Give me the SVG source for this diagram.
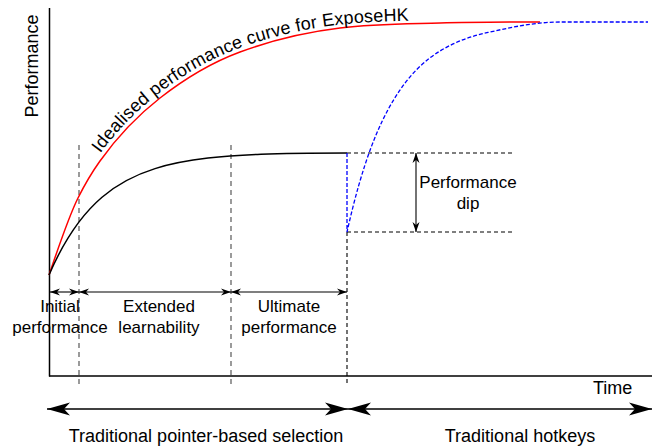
<svg xmlns="http://www.w3.org/2000/svg" width="657" height="447" viewBox="0 0 657 447">
<defs>
<style>
text{font-family:"Liberation Sans",Arial,sans-serif;fill:#000}
.lbl{font-size:17px;text-anchor:middle}
.big{font-size:18px}
.axis{stroke:#000;stroke-width:1.5;fill:none}
.curve{fill:none;stroke-width:1.5}
.gdash{stroke:#666;stroke-width:1.3;stroke-dasharray:5 4;fill:none}
.kdash{stroke:#000;stroke-width:1.1;stroke-dasharray:4 3;fill:none}
.bdash{stroke:#0000ff;stroke-width:1.3;stroke-dasharray:4 2;fill:none}
.arr{stroke:#000;stroke-width:1.1;fill:none;marker-start:url(#sa);marker-end:url(#sa)}
.barr{stroke:#000;stroke-width:1.3;fill:none;marker-start:url(#ba);marker-end:url(#ba)}
</style>
<marker id="sa" markerUnits="userSpaceOnUse" viewBox="0 0 10 8" markerWidth="10" markerHeight="8" refX="10" refY="4" orient="auto-start-reverse">
<path d="M0,0.5 L10,4 L0,7.5 L3,4 z" fill="#000"/>
</marker>
<marker id="ba" markerUnits="userSpaceOnUse" viewBox="0 0 23 14" markerWidth="23" markerHeight="14" refX="23" refY="7" orient="auto-start-reverse">
<path d="M0,0.5 L23,7 L0,13.5 L6,7 z" fill="#000"/>
</marker>
<path id="tp" d="M46,272 C55.67,243.97 65.33,214.33 75,195 C82.33,180.33 89.67,168.27 97,158 C117,130 137,110.6 157,95 C183.67,74.2 210.33,58.87 237,49 C270.33,36.67 303.67,29 337,25 C370.33,21 403.67,21 437,20 C470.33,19 503.67,19 600,19"/>
</defs>

<g id="axes">
<line class="axis" x1="49.5" y1="8" x2="49.5" y2="376.5"/>
<line class="axis" x1="49" y1="376" x2="652" y2="376"/>
<text class="big" transform="translate(37.5,66) rotate(-90)" text-anchor="middle">Performance</text>
<text class="big" x="593" y="394">Time</text>
</g>

<g id="guides">
<line class="gdash" x1="79" y1="145" x2="79" y2="385"/>
<line class="gdash" x1="231" y1="145" x2="231" y2="385"/>
<line class="kdash" x1="347" y1="232" x2="347" y2="383"/>
<line class="kdash" x1="347" y1="153" x2="513" y2="153"/>
<line class="kdash" x1="347" y1="232" x2="513" y2="232"/>
</g>

<g id="curves">
<path id="red-curve" class="curve" stroke="#ff0000" d="M49,275 C58.67,246.97 68.33,217.33 78,198 C85.33,183.33 92.67,171.27 100,161 C120,133 140,113.6 160,98 C186.67,77.2 213.33,61.87 240,52 C273.33,39.67 306.67,32 340,28 C373.33,24 406.67,24 440,23 C473.33,22 506.67,22 540,22"/>
<path id="black-curve" class="curve" stroke="#000" d="M49,275 C66.67,234 84.33,212.34 102,197.25 C119.67,182.16 137.33,174.2 155,168.65 C172.67,163.1 190.33,160.16 208,158.12 C225.67,156.08 243.33,155 261,154.25 C289.67,153.03 318.33,153 347,153"/>
<path id="blue-curve" class="bdash" d="M347,153 L347,232 C362.67,162 378.33,125 394,99.25 C409.67,73.49 425.33,59.9 441,50.42 C456.67,40.94 472.33,35.95 488,32.46 C512,27.12 536,22 560,22 L648,22"/>
<text class="big" letter-spacing="0.15"><textPath href="#tp" startOffset="131">Idealised performance curve for ExposeHK</textPath></text>
</g>

<g id="phases">
<line class="arr" x1="50" y1="292" x2="79" y2="292"/>
<line class="arr" x1="79" y1="292" x2="231" y2="292"/>
<line class="arr" x1="231" y1="292" x2="347" y2="292"/>
<text class="lbl" x="60" y="312">Initial</text>
<text class="lbl" x="60" y="333">performance</text>
<text class="lbl" x="159" y="312">Extended</text>
<text class="lbl" x="159" y="333">learnability</text>
<text class="lbl" x="289" y="312">Ultimate</text>
<text class="lbl" x="289" y="333">performance</text>
</g>

<g id="dip">
<line class="arr" x1="416" y1="153" x2="416" y2="232"/>
<text class="lbl" x="468" y="188">Performance</text>
<text class="lbl" x="468" y="209">dip</text>
</g>

<g id="modes">
<line class="barr" x1="47" y1="409" x2="348" y2="409"/>
<line class="barr" x1="348" y1="409" x2="652" y2="409"/>
<text class="big" x="206" y="442" text-anchor="middle">Traditional pointer-based selection</text>
<text class="big" x="520" y="442" text-anchor="middle">Traditional hotkeys</text>
</g>
</svg>
